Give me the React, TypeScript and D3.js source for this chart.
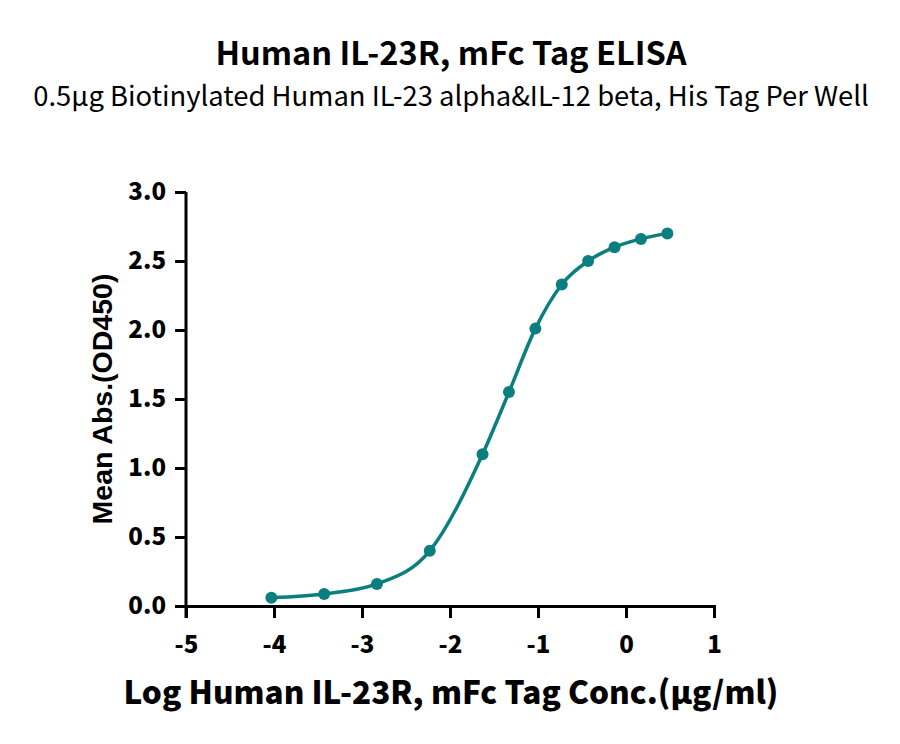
import React, { useEffect, useRef } from 'react';
import * as d3 from 'd3';

// log concentration (µg/ml) and mean OD450
const logConc = [-4.03, -3.43, -2.83, -2.23, -1.63, -1.33, -1.03, -0.73, -0.43, -0.13, 0.17, 0.47];
const meanAbs = [0.06, 0.087, 0.16, 0.4, 1.1, 1.55, 2.01, 2.33, 2.5, 2.6, 2.66, 2.7];
const xTicks = [-5, -4, -3, -2, -1, 0, 1];
const yTicks = [0, 0.5, 1.0, 1.5, 2.0, 2.5, 3.0];

const title = 'Human IL-23R, mFc Tag ELISA';
const subtitle = '0.5μg Biotinylated Human IL-23 alpha&IL-12 beta, His Tag Per Well';
const xTitle = 'Log Human IL-23R, mFc Tag Conc.(μg/ml)';
const yTitle = 'Mean Abs.(OD450)';

const W = 900;
const H = 744;
const teal = '#0b7f80';

export default function App() {
    const ref = useRef<SVGSVGElement>(null);

    useEffect(() => {
        const svg = d3.select(ref.current);
        svg.selectAll('*').remove();

        const x = d3.scaleLinear().domain([-5, 1]).range([186, 714]);
        const y = d3.scaleLinear().domain([0, 3]).range([606, 192]);

        const cjk = '"Noto Sans CJK SC", "Noto Sans", sans-serif';
        const arial = '"Liberation Sans", Arial, sans-serif';

        svg.append('text')
            .attr('x', 451).attr('y', 65)
            .attr('text-anchor', 'middle')
            .style('font-family', cjk)
            .style('font-weight', 700)
            .style('font-size', '32.5px')
            .text(title);

        svg.append('text')
            .attr('x', 451).attr('y', 106)
            .attr('text-anchor', 'middle')
            .style('font-family', cjk)
            .style('font-size', '27.4px')
            .text(subtitle);

        const xAxis = svg.append('g')
            .attr('transform', `translate(0, ${y(0)})`)
            .call(d3.axisBottom(x).tickValues(xTicks).tickSize(12).tickPadding(18).tickFormat(d => String(d)));
        xAxis.select('.domain').attr('stroke', '#000').attr('stroke-width', 3);
        xAxis.selectAll('.tick line').attr('stroke', '#000').attr('stroke-width', 3);
        xAxis.selectAll('.tick text')
            .style('font-family', cjk).style('font-weight', 900).style('font-size', '24px').attr('fill', '#000');

        const yAxis = svg.append('g')
            .attr('transform', `translate(${x(-5)}, 0)`)
            .call(d3.axisLeft(y).tickValues(yTicks).tickSize(11).tickPadding(9).tickFormat(d3.format('.1f')));
        yAxis.select('.domain').attr('stroke', '#000').attr('stroke-width', 3).attr('d', `M0,${y(3)}V${y(0) + 12}`);
        yAxis.selectAll('.tick line').attr('stroke', '#000').attr('stroke-width', 3);
        yAxis.selectAll('.tick text')
            .style('font-family', cjk).style('font-weight', 900).style('font-size', '24px').attr('fill', '#000');

        svg.append('text')
            .attr('x', 451).attr('y', 704)
            .attr('text-anchor', 'middle')
            .style('font-family', cjk)
            .style('font-weight', 900)
            .style('font-size', '31.5px')
            .text(xTitle);

        svg.append('text')
            .attr('transform', `translate(112, ${(y(0) + y(3)) / 2}) rotate(-90)`)
            .attr('text-anchor', 'middle')
            .style('font-family', arial)
            .style('font-weight', 700)
            .style('font-size', '28.5px')
            .text(yTitle);

        const pts = logConc.map((v, i) => [v, meanAbs[i]] as [number, number]);

        const line = d3.line<[number, number]>()
            .x(d => x(d[0]))
            .y(d => y(d[1]))
            .curve(d3.curveMonotoneX);

        svg.append('path')
            .datum(pts)
            .attr('d', line)
            .attr('fill', 'none')
            .attr('stroke', teal)
            .attr('stroke-width', 3.5);

        svg.selectAll('circle.pt')
            .data(pts)
            .enter()
            .append('circle')
            .attr('class', 'pt')
            .attr('cx', d => x(d[0]))
            .attr('cy', d => y(d[1]))
            .attr('r', 6)
            .attr('fill', teal);
    }, []);

    return (
        <div style={{ position: 'absolute', left: 0, top: 0 }}>
            <svg ref={ref} width={W} height={H} style={{ display: 'block', background: '#fff' }} />
        </div>
    );
}
